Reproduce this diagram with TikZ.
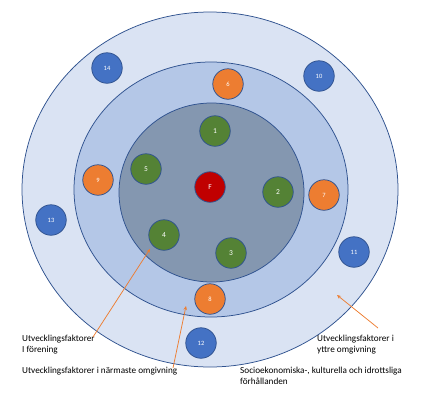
\documentclass[tikz,border=0pt]{standalone}
\usepackage{fontspec}
\setmainfont{Carlito}
\usetikzlibrary{shapes.geometric,arrows.meta}
\definecolor{ringA}{HTML}{DAE3F3}
\definecolor{ringB}{HTML}{B4C7E7}
\definecolor{ringC}{HTML}{8497B0}
\definecolor{edgeblue}{HTML}{2F528F}
\definecolor{gfill}{HTML}{548235}
\definecolor{ofill}{HTML}{ED7D31}
\definecolor{bfill}{HTML}{4472C4}
\definecolor{rfill}{HTML}{C00000}
\definecolor{arrcol}{HTML}{ED7D31}
\tikzset{
  ring/.style={ellipse, draw=edgeblue, line width=0.75pt, inner sep=0pt},
  dot/.style={circle, draw=edgeblue, line width=0.75pt, minimum size=30.5pt, inner sep=0pt, text=white, font=\fontsize{6.5}{7}\selectfont},
  gdot/.style={dot, fill=gfill, font=\fontsize{7.5}{8}\selectfont},
  odot/.style={dot, fill=ofill},
  bdot/.style={dot, fill=bfill},
  rdot/.style={dot, fill=rfill, font=\fontsize{7.5}{8}\selectfont},
  lbl/.style={anchor=north west, inner sep=0pt, align=left, font=\fontsize{9.2}{11}\selectfont},
  arr/.style={draw=arrcol, line width=0.75pt, -{Stealth[length=4pt,width=3.5pt]}}
}
\begin{document}
\begin{tikzpicture}[x=1pt,y=-1pt]
\useasboundingbox (0,0) rectangle (426,402);
\node[ring, fill=ringA, minimum width=376pt, minimum height=355pt] (outer) at (210,189.5) {};
\node[ring, fill=ringB, minimum width=274pt, minimum height=255pt] (middle) at (211,189.5) {};
\node[ring, fill=ringC, minimum width=185pt, minimum height=179pt] (inner) at (211.5,192.5) {};
\node[rdot] (F) at (210,187) {F};
\node[gdot] (n1) at (215,131) {1};
\node[gdot] (n2) at (278,192) {2};
\node[gdot] (n3) at (231,253) {3};
\node[gdot] (n4) at (164,235) {4};
\node[gdot] (n5) at (146,169) {5};
\node[odot] (n6) at (228,84) {6};
\node[odot] (n7) at (324,195) {7};
\node[odot] (n8) at (210,299) {8};
\node[odot] (n9) at (98,180) {9};
\node[bdot] (n10) at (319,76) {10};
\node[bdot] (n11) at (354,252) {11};
\node[bdot] (n12) at (201,343) {12};
\node[bdot] (n13) at (51,220) {13};
\node[bdot] (n14) at (107,68) {14};
\node[lbl] (t1) at (22,334.5) {Utvecklingsfaktorer\\I förening};
\node[lbl] (t2) at (22,367) {Utvecklingsfaktorer i närmaste omgivning};
\node[lbl] (t3) at (317,334.5) {Utvecklingsfaktorer i\\yttre omgivning};
\node[lbl] (t4) at (240,367) {Socioekonomiska-, kulturella och idrottsliga\\förhållanden};
\coordinate (a1s) at (93,337);
\coordinate (a1e) at (150,249);
\coordinate (a2s) at (173,368);
\coordinate (a2e) at (186,306);
\coordinate (a3s) at (378,328);
\coordinate (a3e) at (337,295);
\draw[arr] (a1s) -- (a1e);
\draw[arr] (a2s) -- (a2e);
\draw[arr] (a3s) -- (a3e);
\end{tikzpicture}
\end{document}
